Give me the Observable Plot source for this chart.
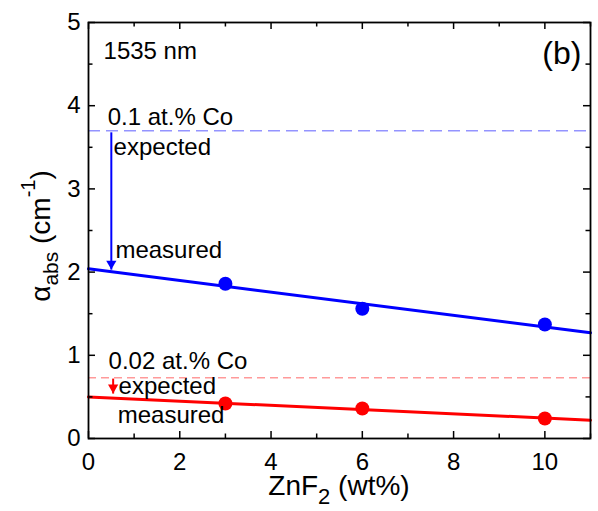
<!DOCTYPE html>
<html><head><meta charset="utf-8">
<script src="https://cdn.jsdelivr.net/npm/d3@7"></script>
<script src="https://cdn.jsdelivr.net/npm/@observablehq/plot@0.6"></script>
<style>
body{margin:0;background:#fff;}
#chart svg{display:block;}
</style>
</head><body><div id="chart"></div>
<script>
// ZnF2 content (wt%) of the measured samples
const zn = [3, 6, 10];
// measured absorption coefficient at 1535 nm (cm^-1)
const alphaCo01 = [1.86, 1.56, 1.37];   // 0.1 at.% Co
const alphaCo002 = [0.42, 0.36, 0.24];  // 0.02 at.% Co
// linear fits drawn across the whole axis
const fitX = [0, 11];
const fitCo01 = [2.04, 1.27];
const fitCo002 = [0.50, 0.22];
// expected absorption levels
const expectedCo01 = 3.70;
const expectedCo002 = 0.73;
// arrows expected -> measured
const arrowCo01 = {x: 0.5, from: 3.68, to: 2.03};
const arrowCo002 = {x: 0.54, from: 0.72, to: 0.54};
// ticks
const xTicks = [0, 2, 4, 6, 8, 10];
const xMinor = [1, 3, 5, 7, 9, 11];
const yTicks = [0, 1, 2, 3, 4, 5];
const yMinor = [0.5, 1.5, 2.5, 3.5, 4.5];
// annotations
const notes = [
  {x: 0.33, y: 4.56, text: "1535 nm"},
  {x: 0.42, y: 3.77, text: "0.1 at.% Co"},
  {x: 0.55, y: 3.41, text: "expected"},
  {x: 0.59, y: 2.17, text: "measured"},
  {x: 0.44, y: 0.835, text: "0.02 at.% Co"},
  {x: 0.66, y: 0.535, text: "expected"},
  {x: 0.64, y: 0.186, text: "measured"}
];
const panelLabel = [{x: 10.8, y: 4.5, text: "(b)"}];

const W = 598, H = 511;
const mL = 88, mR = 8, mT = 22, mB = 73;
const fH = H - mT - mB, fW = W - mL - mR;
const blue = "#0000ff", red = "#ff0000";

const pts01 = zn.map((x, i) => ({x, y: alphaCo01[i]}));
const pts002 = zn.map((x, i) => ({x, y: alphaCo002[i]}));
const fit01 = fitX.map((x, i) => ({x, y: fitCo01[i]}));
const fit002 = fitX.map((x, i) => ({x, y: fitCo002[i]}));

const plot = Plot.plot({
  width: W, height: H,
  marginLeft: mL, marginRight: mR, marginTop: mT, marginBottom: mB,
  style: {fontFamily: "'Liberation Sans', Arial, sans-serif", fontSize: "24px", color: "#000", background: "#fff"},
  x: {domain: [0, 11]},
  y: {domain: [0, 5]},
  marks: [
    Plot.ruleY([expectedCo01], {stroke: "#9494ff", strokeWidth: 1.5, strokeDasharray: "12,6"}),
    Plot.ruleY([expectedCo002], {stroke: "#ff9a9a", strokeWidth: 1.5, strokeDasharray: "8,5"}),
    Plot.line(fit01, {x: "x", y: "y", stroke: blue, strokeWidth: 3}),
    Plot.line(fit002, {x: "x", y: "y", stroke: red, strokeWidth: 3}),
    Plot.dot(pts01, {x: "x", y: "y", r: 7, fill: blue}),
    Plot.dot(pts002, {x: "x", y: "y", r: 7, fill: red}),
    Plot.link([arrowCo01], {x1: "x", x2: "x", y1: "from", y2: "to", stroke: blue, strokeWidth: 2}),
    Plot.link([arrowCo002], {x1: "x", x2: "x", y1: "from", y2: "to", stroke: red, strokeWidth: 2}),
    Plot.dot([arrowCo01], {x: "x", y: "to", symbol: "triangle", rotate: 180, r: 3.8, fill: blue, stroke: "none", dy: -6}),
    Plot.dot([arrowCo002], {x: "x", y: "to", symbol: "triangle", rotate: 180, r: 3.8, fill: red, stroke: "none", dy: -6}),
    Plot.text(notes, {x: "x", y: "y", text: "text", textAnchor: "start", fontSize: 24, lineAnchor: "bottom", fill: "#000"}),
    Plot.text(panelLabel, {x: "x", y: "y", text: "text", textAnchor: "end", fontSize: 32, lineAnchor: "bottom", fill: "#000"}),
    // inward tick marks on all four sides
    Plot.ruleX(xTicks, {insetTop: fH - 7, stroke: "#000", strokeWidth: 1.5}),
    Plot.ruleX(xTicks, {insetBottom: fH - 7, stroke: "#000", strokeWidth: 1.5}),
    Plot.ruleX(xMinor, {insetTop: fH - 4.5, stroke: "#000", strokeWidth: 1.5}),
    Plot.ruleX(xMinor, {insetBottom: fH - 4.5, stroke: "#000", strokeWidth: 1.5}),
    Plot.ruleY(yTicks, {insetRight: fW - 7, stroke: "#000", strokeWidth: 1.5}),
    Plot.ruleY(yTicks, {insetLeft: fW - 7, stroke: "#000", strokeWidth: 1.5}),
    Plot.ruleY(yMinor, {insetRight: fW - 4.5, stroke: "#000", strokeWidth: 1.5}),
    Plot.ruleY(yMinor, {insetLeft: fW - 4.5, stroke: "#000", strokeWidth: 1.5}),
    Plot.axisX(xTicks, {tickSize: 0, tickPadding: 14, label: null, fontSize: 24, tickFormat: d3.format("d")}),
    Plot.axisY(yTicks, {tickSize: 0, tickPadding: 8, label: null, fontSize: 24, tickFormat: d3.format("d")}),
    Plot.frame({stroke: "#000", strokeWidth: 1.8})
  ]
});

const svg = d3.select(plot);
// x-axis title with subscript
const xt = svg.append("text")
  .attr("x", mL + fW / 2).attr("y", 495)
  .attr("text-anchor", "middle")
  .attr("font-size", 28).attr("fill", "#000");
xt.append("tspan").text("ZnF");
xt.append("tspan").attr("font-size", 22).attr("dy", 9).text("2");
xt.append("tspan").attr("dy", -9).text(" (wt%)");

// y-axis title with subscript and superscript
const yt = svg.append("text")
  .attr("transform", `translate(50,236) rotate(-90)`)
  .attr("text-anchor", "middle")
  .attr("font-size", 28).attr("fill", "#000");
yt.append("tspan").text("α");
yt.append("tspan").attr("font-size", 21).attr("dy", 8).text("abs");
yt.append("tspan").attr("dy", -8).text(" (cm");
yt.append("tspan").attr("font-size", 20).attr("dy", -15).text("-1");
yt.append("tspan").attr("dy", 15).text(")");

// partial tick label of the neighbouring panel at the left edge
svg.append("text").attr("x", -7).attr("y", 466).attr("font-size", 24).attr("fill", "#000").text("7");

document.getElementById("chart").append(plot);
</script>
</body></html>
